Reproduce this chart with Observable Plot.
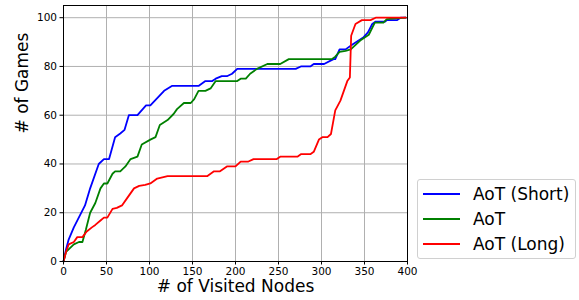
<!DOCTYPE html>
<html>
<head>
<meta charset="utf-8">
<script src="https://cdn.jsdelivr.net/npm/d3@7"></script>
<script src="https://cdn.jsdelivr.net/npm/@observablehq/plot@0.6"></script>
<style>
  body { margin: 0; background: white; }
  #wrap { position: relative; width: 579px; height: 300px; font-family: "DejaVu Sans", sans-serif; }
  #legend { position: absolute; left: 417px; top: 179px; width: 159px; height: 80px;
            border: 1px solid #d0d0d0; border-radius: 3px; background: white; box-sizing: border-box; }
  .row { position: absolute; left: 0; height: 25px; display: flex; align-items: center; font-size: 17px; color: #000; }
  .sw { width: 37px; height: 0; border-top: 2px solid; margin-left: 5px; margin-right: 13px; }
</style>
</head>
<body>
<div id="wrap"></div>
<script>
const seriesNames = ["AoT (Short)", "AoT", "AoT (Long)"];
const seriesColors = ["#0000ff", "#008000", "#ff0000"];

const shortX = [0,3,6,12,25,31,41,47,53,60,66,71,76,86,96,101,117,126,157,165,173,177,184,190,196,202,270,276,287,291,303,314,316,321,328,336,349,354,359,363,374,376,388,392,398];
const shortY = [0,5,9,14,23,30,40,42,42,51,52.5,54,60,60,64,64,70,72,72,74,74,75,76,76,77,79,79,80,80,81,81,83,83,87,87,89,92,94,97.4,98.4,98.4,99,99,100,100];

const aotX = [0,3,6,12,18,22,26,31,37,43,47,51,57,60,66,72,78,86,91,101,107,112,121,128,132,140,148,152,157,165,171,177,202,206,212,217,225,237,252,262,312,316,321,328,334,345,355,362,372,376,398];
const aotY = [0,4,5,7,8,8,13,20,24,30,32,32,36,37,37,39,42,43,48,50,51,56,58,60.5,62.5,65,65,66.6,70,70,71,74,74,75,75,77,79,81,81,83,83,84,86,86.4,87,90.6,93,98,98,99.4,100];

const longX = [0,3,6,12,16,22,27,33,37,43,47,51,57,62,68,74,82,88,95,101,109,121,167,175,182,190,200,206,215,221,248,252,272,276,287,291,297,301,307,311,316,322,330,333,334.5,339.5,347,357,363,398];
const longY = [0,4,7,8,10,10,12.3,14,15,16.8,18,18,21.6,22,23,26,30,31,31.4,32,34,35,35,37,37,39,39,41,41,42,42,43,43,44,44,45,50,51,51,52.3,62,66,74,75.5,92.6,97.4,99,99,100,100];

const xTicks = [0,50,100,150,200,250,300,350,400];
const yTicks = [0,20,40,60,80,100];

function build(name, xs, ys) { return xs.map((x, i) => ({series: name, x, y: ys[i]})); }
const data = [
  ...build(seriesNames[0], shortX, shortY),
  ...build(seriesNames[1], aotX, aotY),
  ...build(seriesNames[2], longX, longY)
];

const chart = Plot.plot({
  width: 579, height: 300,
  marginLeft: 63, marginRight: 172, marginTop: 5, marginBottom: 39,
  style: {fontFamily: "DejaVu Sans, sans-serif", background: "white", color: "black"},
  x: {domain: [0, 400]},
  y: {domain: [0, 105]},
  color: {domain: seriesNames, range: seriesColors},
  marks: [
    Plot.gridX({ticks: xTicks, stroke: "#b0b0b0", strokeOpacity: 1, strokeWidth: 1}),
    Plot.gridY({ticks: yTicks, stroke: "#b0b0b0", strokeOpacity: 1, strokeWidth: 1}),
    Plot.line(data, {x: "x", y: "y", z: "series", stroke: "series", strokeWidth: 1.8}),
    Plot.frame({stroke: "black", strokeWidth: 1}),
    Plot.axisX({ticks: xTicks, tickSize: 3.5, tickPadding: 3, fontSize: 10.5, label: null}),
    Plot.axisY({ticks: yTicks, tickSize: 3.5, tickPadding: 3, fontSize: 10.5, label: null}),
    Plot.text(["# of Visited Nodes"], {frameAnchor: "bottom", dy: 30.5, fontSize: 17, fill: "black"}),
    Plot.text(["# of Games"], {frameAnchor: "left", dx: -41, rotate: -90, fontSize: 17, fill: "black"})
  ]
});

const wrap = document.getElementById("wrap");
wrap.appendChild(chart);
const legend = document.createElement("div");
legend.id = "legend";
seriesNames.forEach((n, i) => {
  const row = document.createElement("div");
  row.className = "row";
  row.style.top = (1 + i * 25) + "px";
  const sw = document.createElement("div");
  sw.className = "sw";
  sw.style.borderTopColor = seriesColors[i];
  const t = document.createElement("span");
  t.textContent = n;
  row.appendChild(sw); row.appendChild(t);
  legend.appendChild(row);
});
wrap.appendChild(legend);
</script>
</body>
</html>
